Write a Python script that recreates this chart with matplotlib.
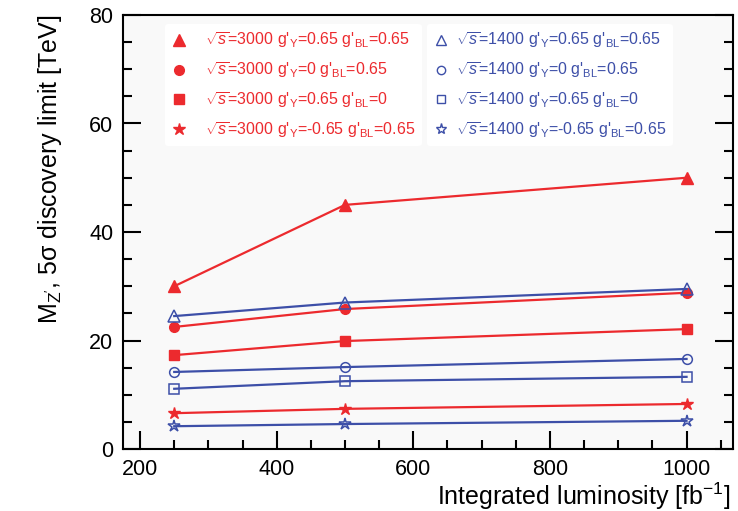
import matplotlib
matplotlib.use("Agg")
import matplotlib.pyplot as plt
from matplotlib.lines import Line2D
from matplotlib.ticker import MultipleLocator

plt.rcParams['font.family'] = ['Liberation Sans', 'DejaVu Sans']
plt.rcParams['mathtext.fontset'] = 'custom'
plt.rcParams['mathtext.rm'] = 'Liberation Sans'
plt.rcParams['mathtext.it'] = 'Liberation Sans:italic'
plt.rcParams['mathtext.sf'] = 'Liberation Sans'

lumi = [250, 500, 1000]

red_tri = [30.0, 45.0, 50.0]
red_circ = [22.5, 25.8, 28.8]
red_sq = [17.3, 19.9, 22.1]
red_star = [6.6, 7.4, 8.3]

blue_tri = [24.5, 27.0, 29.5]
blue_circ = [14.2, 15.1, 16.6]
blue_sq = [11.1, 12.5, 13.3]
blue_star = [4.2, 4.6, 5.2]

red_labels = [r"$\sqrt{s}$=3000 g$'_\mathrm{Y}$=0.65 g$'_\mathrm{BL}$=0.65",
              r"$\sqrt{s}$=3000 g$'_\mathrm{Y}$=0 g$'_\mathrm{BL}$=0.65",
              r"$\sqrt{s}$=3000 g$'_\mathrm{Y}$=0.65 g$'_\mathrm{BL}$=0",
              r"$\sqrt{s}$=3000 g$'_\mathrm{Y}$=-0.65 g$'_\mathrm{BL}$=0.65"]
blue_labels = [r"$\sqrt{s}$=1400 g$'_\mathrm{Y}$=0.65 g$'_\mathrm{BL}$=0.65",
               r"$\sqrt{s}$=1400 g$'_\mathrm{Y}$=0 g$'_\mathrm{BL}$=0.65",
               r"$\sqrt{s}$=1400 g$'_\mathrm{Y}$=0.65 g$'_\mathrm{BL}$=0",
               r"$\sqrt{s}$=1400 g$'_\mathrm{Y}$=-0.65 g$'_\mathrm{BL}$=0.65"]

RED = '#ec2a2e'
BLUE = '#3d4fa8'

W, H = 738, 511
fig = plt.figure(figsize=(W/100, H/100), dpi=100)
ax = fig.add_axes([123/W, 1-449/H, 610/W, 434/H])
ax.set_facecolor('#f9f9f9')
fig.patch.set_facecolor('white')

markers = ['^', 'o', 's', '*']
msz = [8, 7, 7, 9]
red_series = [red_tri, red_circ, red_sq, red_star]
blue_series = [blue_tri, blue_circ, blue_sq, blue_star]

for ys, m, s in zip(red_series, markers, msz):
    ax.plot(lumi, ys, color=RED, lw=1.6, marker=m, ms=s, mfc=RED, mec=RED, zorder=3)
for ys, m, s in zip(blue_series, markers, msz):
    ax.plot(lumi, ys, color=BLUE, lw=1.6, marker=m, ms=s, mfc='none', mec=BLUE, mew=1.1, zorder=3)

h_red = [Line2D([], [], ls='none', marker=m, ms=s, color=RED, mfc=RED) for m, s in zip(markers, msz)]
h_blue = [Line2D([], [], ls='none', marker=m, ms=s - 1, color=BLUE, mfc='none', mew=1.0) for m, s in zip(markers, msz)]

FS = 11.5
leg2 = fig.legend(h_blue, blue_labels, loc='upper left',
                  bbox_to_anchor=(419/W, 1-16/H), bbox_transform=fig.transFigure,
                  frameon=True, fontsize=FS, handlelength=1.0, handletextpad=0.4,
                  labelspacing=0.62, borderpad=0.4)
leg1 = fig.legend(h_red, red_labels, loc='upper left',
                  bbox_to_anchor=(157/W, 1-16/H), bbox_transform=fig.transFigure,
                  frameon=True, fontsize=FS, handlelength=1.0, handletextpad=1.1,
                  labelspacing=0.62, borderpad=0.4)
for leg, col in ((leg1, RED), (leg2, BLUE)):
    leg.get_frame().set_facecolor('white')
    leg.get_frame().set_edgecolor('none')
    leg.get_frame().set_alpha(1)
    for t in leg.get_texts():
        t.set_color(col)

ax.set_xlim(175, 1068)
ax.set_ylim(0, 80)
ax.xaxis.set_major_locator(MultipleLocator(200))
ax.xaxis.set_minor_locator(MultipleLocator(50))
ax.yaxis.set_major_locator(MultipleLocator(20))
ax.yaxis.set_minor_locator(MultipleLocator(5))
ax.tick_params(which='both', direction='in', right=True, top=False, width=1.5, labelsize=15.5, pad=7)
ax.tick_params(which='major', length=13)
ax.tick_params(which='minor', length=6.5)
for sp in ax.spines.values():
    sp.set_linewidth(1.5)

ax.set_ylabel(r"M$_\mathrm{Z'}$, 5σ discovery limit [TeV]", fontsize=18, loc='top', labelpad=18)
ax.set_xlabel(r"Integrated luminosity [fb$^{-1}$]", fontsize=18)
ax.xaxis.label.set_ha('right')
ax.xaxis.set_label_coords(0.996, -0.072)

fig.savefig('out.png', dpi=100)
